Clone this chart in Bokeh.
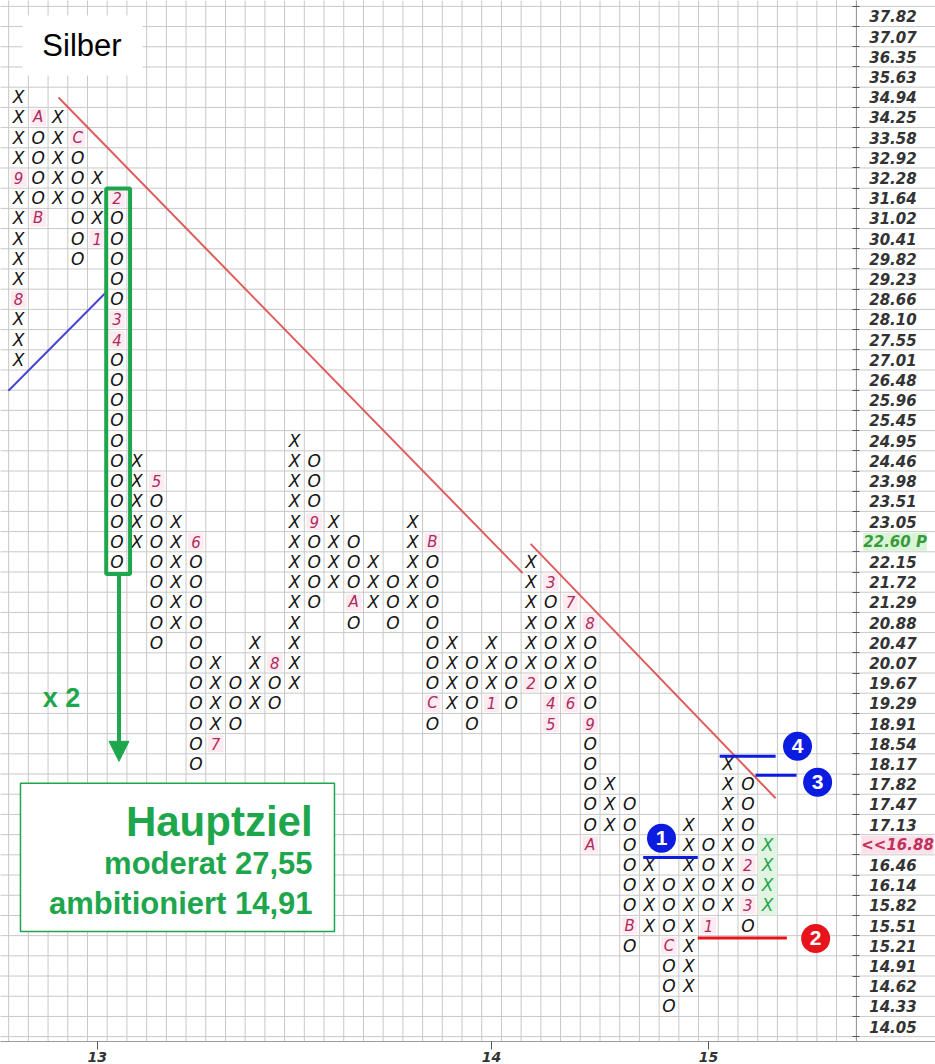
from bokeh.plotting import figure
from bokeh.models import ColumnDataSource, FixedTicker, LinearAxis, Arrow, NormalHead, Label
from bokeh.core.properties import value
from bokeh.embed import file_html
from bokeh.resources import INLINE

# ---------------- data ----------------
# box levels, top to bottom (2 % box size)
box_levels = [37.82, 37.07, 36.35, 35.63, 34.94, 34.25, 33.58, 32.92, 32.28, 31.64,
              31.02, 30.41, 29.82, 29.23, 28.66, 28.10, 27.55, 27.01, 26.48, 25.96,
              25.45, 24.95, 24.46, 23.98, 23.51, 23.05, 22.60, 22.15, 21.72, 21.29,
              20.88, 20.47, 20.07, 19.67, 19.29, 18.91, 18.54, 18.17, 17.82, 17.47,
              17.13, 16.80, 16.46, 16.14, 15.82, 15.51, 15.21, 14.91, 14.62, 14.33, 14.05]
current_price = "16.88"
current_level = 16.80
marked_level = 22.60          # shown as "22.60 P"

col_kind = ["X", "O", "X", "O", "X", "O", "X", "O", "X", "O",
            "X", "O", "X", "O", "X", "O", "X", "O", "X", "O",
            "X", "O", "X", "O", "X", "O", "X", "O", "X", "O",
            "X", "O", "X", "O", "X", "O", "X", "O", "X"]
col_top = [34.94, 34.25, 34.25, 33.58, 32.28, 31.64, 24.46, 23.98, 23.05, 22.60,
           20.07, 19.67, 20.47, 20.07, 24.95, 24.46, 23.05, 22.60, 22.15, 21.72,
           23.05, 22.60, 20.47, 20.07, 20.47, 20.07, 22.15, 21.72, 21.29, 20.88,
           17.82, 17.47, 16.46, 16.14, 17.13, 16.80, 18.17, 17.82, 16.80]
col_bottom = [27.01, 31.02, 31.64, 29.82, 30.41, 22.15, 22.60, 20.47, 20.88, 18.17,
              18.54, 18.91, 19.29, 19.29, 19.67, 21.29, 21.72, 20.88, 21.29, 20.88,
              21.29, 18.91, 19.29, 18.91, 19.29, 19.29, 19.67, 18.91, 19.29, 16.80,
              17.13, 15.21, 15.51, 14.33, 14.62, 15.51, 15.82, 15.51, 15.82]

# month markers: column, box level, month code
month_col = [0, 0, 1, 1, 3, 4, 5, 5, 5, 7, 9, 10, 13, 15, 17, 21, 21, 24, 26, 27,
             27, 27, 28, 28, 29, 29, 29, 31, 33, 35, 37, 37]
month_level = [32.28, 28.66, 34.25, 31.02, 33.58, 30.41, 31.64, 28.10, 27.55, 23.98,
               22.60, 18.54, 20.07, 23.05, 21.29, 22.60, 19.29, 19.29, 19.67, 21.72,
               19.29, 18.91, 19.29, 21.29, 20.88, 18.91, 16.80, 15.51, 15.21, 15.51,
               16.46, 15.82]
month_label = ["9", "8", "A", "B", "C", "1", "2", "3", "4", "5",
               "6", "7", "8", "9", "A", "B", "C", "1", "2", "3",
               "4", "5", "6", "7", "8", "9", "A", "B", "C", "1",
               "2", "3"]
year_label = ["13", "14", "15"]

target_moderate = "27,55"
target_ambitious = "14,91"
title = "Silber"

# ---------------- styles ----------------
GREEN = "#1ea64c"
INK = "#141414"
MONTH = "#ad2b5c"
GRID = "#c8c8c8"
RED = "#dc4b4b"
BLUE_MARK = "#0b1be0"
RED_MARK = "#e8141c"
grid_cols = 43

n_rows = len(box_levels)
n_cols = len(col_kind)


def row_of(level):
    return n_rows - 1 - box_levels.index(level)


month_pos = {(c, row_of(l)): t for c, l, t in zip(month_col, month_level, month_label)}
last_col = n_cols - 1

mx, my, mt, mcol = [], [], [], []
for c, (k, top, bot) in enumerate(zip(col_kind, col_top, col_bottom)):
    for r in range(row_of(bot), row_of(top) + 1):
        if (c, r) in month_pos:
            continue
        mx.append(c)
        my.append(r)
        mt.append(k)
        mcol.append(GREEN if c == last_col else INK)
marks = ColumnDataSource(dict(x=mx, y=my, t=mt, c=mcol))
months = ColumnDataSource(dict(x=month_col, y=[row_of(l) for l in month_level], t=month_label))

year_cols = [c for c, t in zip(month_col, month_label) if t == "1"]

p = figure(width=935, height=1064, x_range=(-0.913, 46.52), y_range=(-0.74, 50.79),
           output_backend="svg", toolbar_location=None, y_axis_location=None,
           min_border=0)
p.outline_line_color = None
p.grid.visible = False
p.background_fill_color = "white"
p.border_fill_color = "white"

vx = [k - 0.5 for k in range(-1, grid_cols + 1)]
hy = [r - 0.5 for r in range(n_rows + 1)]
p.segment(x0=vx, y0=-1, x1=vx, y1=52, line_color=GRID, line_width=1)
p.segment(x0=-2, y0=hy, x1=48, y1=hy, line_color=GRID, line_width=1)

# highlight of the current column and month labels
p.quad(left=last_col - 0.5, right=last_col + 0.5,
       bottom=row_of(col_bottom[last_col]) - 0.5, top=row_of(col_top[last_col]) + 0.5,
       fill_color="#e2f5e2", line_color=None)
p.rect(x="x", y="y", width=0.8, height=0.85, source=months, fill_color="#fdebf1", line_color=None)

# trend lines
p.line([2.03, 25.57], [45.99, 22.45], line_color=RED, line_width=2, line_alpha=0.9)
p.line([25.98, 38.41], [23.89, 11.30], line_color=RED, line_width=2, line_alpha=0.9)
p.line([-0.51, 4.52], [31.47, 36.42], line_color="#4646d2", line_width=2)

# X / O marks
p.text(x="x", y="y", text="t", text_color="c", source=marks,
       text_font=value("DejaVu Sans"), text_font_style="italic", text_font_size="17px",
       text_align="center", text_baseline="middle")
p.text(x="x", y="y", text="t", source=months, text_color=MONTH,
       text_font=value("DejaVu Sans"), text_font_style="italic", text_font_size="15px",
       text_align="center", text_baseline="middle")

# title box
p.quad(left=0.2, right=6.29, bottom=47.08, top=50.05, fill_color="white", line_color=None)
p.text(x=[3.22], y=[48.56], text=[title], text_font=value("Liberation Sans"),
       text_font_size="31px", text_color="black", text_align="center", text_baseline="middle")

# count box and arrow
p.quad(left=4.45, right=5.66, bottom=22.4, top=41.48, fill_color=None, line_color=GREEN, line_width=4)
p.add_layout(Arrow(x_start=5.1, y_start=22.4, x_end=5.1, y_end=13.13, line_color=GREEN,
                   line_width=4, end=NormalHead(size=20, fill_color=GREEN, line_color=GREEN)))
p.text(x=[2.18], y=[16.25], text=["x 2"], text_font=value("Liberation Sans"),
       text_font_style="bold", text_font_size="27px", text_color=GREEN,
       text_align="center", text_baseline="middle")

p.quad(left=0.10, right=16.03, bottom=4.71, top=12.04, fill_color="white",
       line_color=GREEN, line_width=1.5)
p.text(x=[14.92, 14.92, 14.92], y=[10.16, 8.08, 6.10],
       text=["Hauptziel", "moderat " + target_moderate, "ambitioniert " + target_ambitious],
       text_font_size=["42px", "31px", "31px"],
       text_font=value("Liberation Sans"), text_font_style="bold", text_color=GREEN,
       text_align="right", text_baseline="middle")

# numbered markers
p.segment(x0=[31.69, 34.46, 37.39, 35.57], y0=[8.37, 4.38, 12.44, 13.38],
          x1=[34.46, 38.98, 39.47, 38.41], y1=[8.37, 4.38, 12.44, 13.38],
          line_color=[BLUE_MARK, RED_MARK, BLUE_MARK, BLUE_MARK], line_width=3)
p.scatter(x=[32.62, 40.44, 40.54, 39.52], y=[9.32, 4.36, 12.09, 13.88], marker="circle",
          size=29, fill_color=[BLUE_MARK, RED_MARK, BLUE_MARK, BLUE_MARK], line_color=None)
p.text(x=[32.62, 40.44, 40.54, 39.52], y=[9.32, 4.36, 12.09, 13.88], text=["1", "2", "3", "4"],
       text_font=value("Liberation Sans"), text_font_style="bold", text_font_size="21px",
       text_color="white", text_align="center", text_baseline="middle")

# price axis inside the chart
yaxis = LinearAxis(fixed_location=grid_cols - 0.5,
                   ticker=FixedTicker(ticks=list(range(n_rows)), minor_ticks=hy))
overrides = {}
for r in range(n_rows):
    lvl = box_levels[n_rows - 1 - r]
    overrides[r] = "" if lvl in (current_level, marked_level) else f"{lvl:.2f}"
yaxis.major_label_overrides = overrides
yaxis.axis_line_color = "#9a9a9a"
yaxis.major_tick_line_color = None
yaxis.minor_tick_line_color = "#555555"
yaxis.minor_tick_in = 4
yaxis.minor_tick_out = 3
yaxis.major_label_standoff = 7
yaxis.major_label_text_font = "DejaVu Sans"
yaxis.major_label_text_font_style = "bold italic"
yaxis.major_label_text_font_size = "15px"
yaxis.major_label_text_color = "#333333"
p.add_layout(yaxis, "right")

p.add_layout(Label(x=grid_cols - 0.5, y=row_of(marked_level), x_offset=7,
                   text=f"{marked_level:.2f} P", text_baseline="middle",
                   text_font="DejaVu Sans", text_font_style="bold italic", text_font_size="15px",
                   text_color="#3a9a3a", background_fill_color="#d8f5d8"))
p.add_layout(Label(x=grid_cols - 0.5, y=row_of(current_level), x_offset=5,
                   text="<<" + current_price, text_baseline="middle",
                   text_font="DejaVu Sans", text_font_style="bold italic", text_font_size="15px",
                   text_color="#c0305a", background_fill_color="#fde0ea"))

# time axis
p.xaxis.ticker = FixedTicker(ticks=year_cols)
p.xaxis.major_label_overrides = {c: y for c, y in zip(year_cols, year_label)}
p.xaxis.axis_line_color = "#9a9a9a"
p.xaxis.major_tick_line_color = "#555555"
p.xaxis.major_tick_out = 8
p.xaxis.major_tick_in = 0
p.xaxis.minor_tick_line_color = None
p.xaxis.major_label_standoff = 2
p.xaxis.major_label_text_font = "DejaVu Sans"
p.xaxis.major_label_text_font_style = "bold italic"
p.xaxis.major_label_text_font_size = "14px"
p.xaxis.major_label_text_color = "#333333"

open("out.html", "w").write(file_html(p, INLINE))
